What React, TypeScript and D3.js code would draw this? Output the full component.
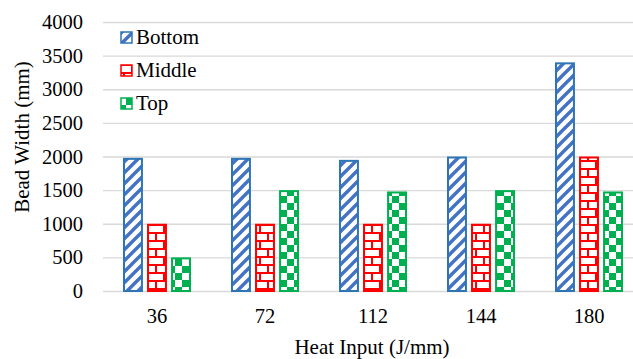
import React, {useEffect, useRef} from 'react';
import * as d3 from 'd3';

const categories = ['36', '72', '112', '144', '180'];
const seriesNames = ['Bottom', 'Middle', 'Top'];
const bottomValues = [1980, 1980, 1950, 2000, 3400];
const middleValues = [1000, 1000, 1000, 1000, 2000];
const topValues = [500, 1500, 1480, 1500, 1480];
const yTicks = [0, 500, 1000, 1500, 2000, 2500, 3000, 3500, 4000];

const W = 633;
const H = 359;
const FONT = 'Liberation Serif, Times New Roman, DejaVu Serif, serif';

export default function App() {
    const ref = useRef<SVGSVGElement>(null);

    useEffect(() => {
        const svg = d3.select(ref.current);
        svg.selectAll('*').remove();

        const x = d3.scaleBand().domain(categories).range([103, 643]);
        const y = d3.scaleLinear().domain([0, 4000]).range([291, 22]);
        const inner = d3.scaleBand().domain(seriesNames).range([20, 88]).paddingInner(0.17);

        const defs = svg.append('defs');

        // wide upward diagonal - blue
        const stripe = defs.append('pattern')
            .attr('id', 'pat-Bottom')
            .attr('patternUnits', 'userSpaceOnUse')
            .attr('width', 11).attr('height', 11);
        stripe.append('rect').attr('width', 11).attr('height', 11).attr('fill', '#fff');
        stripe.append('path')
            .attr('d', 'M-2,13 L13,-2 M-8,8 L8,-8 M3,19 L19,3')
            .attr('stroke', '#4472C4').attr('stroke-width', 3.4);

        // brick - red
        const brick = defs.append('pattern')
            .attr('id', 'pat-Middle')
            .attr('patternUnits', 'userSpaceOnUse')
            .attr('width', 16).attr('height', 16);
        brick.append('rect').attr('width', 16).attr('height', 16).attr('fill', '#fff');
        brick.append('path')
            .attr('d', 'M0,1 H16 M0,9 H16 M4,1 V9 M12,9 V17')
            .attr('stroke', '#FF0000').attr('stroke-width', 2).attr('fill', 'none');

        // large checkerboard - green
        const checker = defs.append('pattern')
            .attr('id', 'pat-Top')
            .attr('patternUnits', 'userSpaceOnUse')
            .attr('width', 14).attr('height', 14);
        checker.append('rect').attr('width', 14).attr('height', 14).attr('fill', '#fff');
        checker.append('rect').attr('width', 7).attr('height', 7).attr('fill', '#00B050');
        checker.append('rect').attr('x', 7).attr('y', 7).attr('width', 7).attr('height', 7).attr('fill', '#00B050');

        const strokes: Record<string, string> = {Bottom: '#2E75B6', Middle: '#FF0000', Top: '#00B050'};

        // gridlines
        svg.append('g')
            .selectAll('line')
            .data(yTicks)
            .enter()
            .append('line')
            .attr('x1', 103).attr('x2', W)
            .attr('y1', d => y(d) + 0.5).attr('y2', d => y(d) + 0.5)
            .attr('stroke', '#D9D9D9').attr('stroke-width', 1.3);

        // y tick labels
        svg.append('g')
            .selectAll('text')
            .data(yTicks)
            .enter()
            .append('text')
            .attr('x', 83)
            .attr('y', d => y(d) + 7)
            .attr('text-anchor', 'end')
            .style('font-size', '20.5px')
            .attr('fill', '#000')
            .text(d => d);

        // x tick labels
        svg.append('g')
            .selectAll('text')
            .data(categories)
            .enter()
            .append('text')
            .attr('x', d => (x(d) as number) + x.bandwidth() / 2)
            .attr('y', 323)
            .attr('text-anchor', 'middle')
            .style('font-size', '20.5px')
            .text(d => d);

        const series = [bottomValues, middleValues, topValues];
        seriesNames.forEach((name, si) => {
            svg.append('g')
                .selectAll('rect')
                .data(series[si])
                .enter()
                .append('rect')
                .attr('x', (d, i) => (x(categories[i]) as number) + (inner(name) as number) + 1)
                .attr('y', d => y(d) + 1)
                .attr('width', inner.bandwidth() - 2)
                .attr('height', d => y(0) - y(d) - 1)
                .attr('fill', `url(#pat-${name})`)
                .attr('stroke', strokes[name])
                .attr('stroke-width', 2);
        });

        // legend
        const legend = svg.append('g');
        seriesNames.forEach((name, i) => {
            const ly = 32 + i * 33;
            legend.append('rect')
                .attr('x', 121).attr('y', ly)
                .attr('width', 11).attr('height', 11)
                .attr('fill', `url(#pat-${name})`)
                .attr('stroke', strokes[name]).attr('stroke-width', 1.5);
            legend.append('text')
                .attr('x', 136).attr('y', ly + 12)
                .style('font-size', '21px')
                .text(name);
        });

        // axis titles
        svg.append('text')
            .attr('transform', 'translate(29,137) rotate(-90)')
            .attr('text-anchor', 'middle')
            .style('font-size', '21px')
            .text('Bead Width (mm)');
        svg.append('text')
            .attr('x', 372).attr('y', 354)
            .attr('text-anchor', 'middle')
            .style('font-size', '21px')
            .text('Heat Input (J/mm)');
    }, []);

    return (
        <svg ref={ref} width={W} height={H}
             style={{position: 'absolute', left: 0, top: 0, background: '#fff', fontFamily: FONT}}/>
    );
}
